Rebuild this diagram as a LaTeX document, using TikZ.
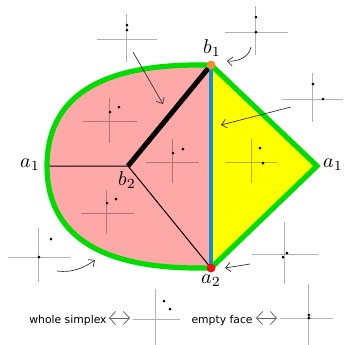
\documentclass[tikz,border=0pt]{standalone}
\usepackage{fontspec}
\usepackage{tikz}
\usetikzlibrary{arrows.meta}
\newfontfamily\notesans{DejaVu Sans}
\definecolor{facepink}{RGB}{255,168,168}
\definecolor{faceyellow}{RGB}{255,255,0}
\definecolor{rimgreen}{RGB}{0,220,0}
\definecolor{edgeblue}{RGB}{20,140,210}
\definecolor{dotorange}{RGB}{240,140,50}
\definecolor{dotred}{RGB}{235,20,20}

\begin{document}
\begin{tikzpicture}[
    x=0.5pt, y=-0.5pt,
    axis/.style={draw=black, opacity=0.3, line width=0.5pt},
    pt/.style={circle, fill=black, inner sep=0pt, minimum size=1.5pt},
    ptr/.style={draw=black!80, line width=0.35pt, -{Straight Barb[length=2.5pt,width=4.5pt]}},
    iff/.style={draw=black!60, line width=0.4pt, {Straight Barb[length=3pt,width=6.5pt]}-{Straight Barb[length=3pt,width=6.5pt]}},
    vdot/.style={circle, inner sep=0pt, minimum size=4.5pt},
    note/.style={font=\notesans\fontsize{5.4}{6}\selectfont, inner sep=0pt, anchor=base east}
]
\useasboundingbox (0,0) rectangle (344,345);
% vertices
\coordinate (b1) at (211,65);
\coordinate (a2) at (211,268);
\coordinate (b2) at (128,166);
\coordinate (a1r) at (317,166);
\coordinate (a1l) at (47,166);
% faces
\fill[facepink] (b1) -- (198,65) .. controls (97,65) and (47,99) .. (a1l)
    .. controls (47,233) and (97,268) .. (198,268) -- (a2) -- cycle;
\fill[faceyellow] (b1) -- (a1r) -- (a2) -- cycle;
% cells
\draw[line width=0.5pt] (a1l) -- (b2) -- (a2);
\draw[line width=2.5pt] (b2) -- (b1);
\draw[edgeblue, line width=2pt] (b1) -- (a2);
\draw[rimgreen, line width=2.6pt] (b1) -- (198,65) .. controls (97,65) and (47,99) .. (a1l)
    .. controls (47,233) and (97,268) .. (198,268) -- (a2) -- (a1r) -- cycle;
\node[vdot, fill=dotorange] (b1dot) at (b1) {};
\node[vdot, fill=dotred] (a2dot) at (a2) {};
% labels
\node (lb1) at (212,48) {$b_1$};
\node (la2) at (211,281) {$a_2$};
\node (lb2) at (127,180) {$b_2$};
\node (la1l) at (30,165) {$a_1$};
\node (la1r) at (333,165) {$a_1$};
% little diagrams
\foreach \cx/\cy/\xl/\xr/\yt/\yb in {127/39/97/157/14/62, 256/32/225/288/6/55,
    313/99/282/343/73/122, 110/121/83/137/98/143, 173/162/146/199/139/183,
    107/213/81/134/190/234, 252/162/225/277/139/183, 39/257/8/70/228/282,
    285/254/252/318/222/284, 156/319/133/180/289/345, 309/318/280/333/284/345} {
    \draw[axis] (\xl,\cy) -- (\xr,\cy) (\cx,\yt) -- (\cx,\yb);
}
\foreach \x/\y [count=\k] in {127/25, 127/30, 256/17, 256/32, 313/84, 323/99,
    110/112, 119/107, 173/153, 183/149, 107/203, 116/199, 260/148, 263/163,
    39/257, 51/239, 283/257, 287/253, 164/301, 170/309, 309/315, 309/318} {
    \node[pt] (d\k) at (\x,\y) {};
}
% pointers
\coordinate (pA) at (133,52);
\coordinate (qA) at (163,104);
\coordinate (pB) at (251,47);
\coordinate (qB) at (227,61);
\coordinate (pC) at (291,107);
\coordinate (qC) at (221,125);
\coordinate (pD) at (57,271);
\coordinate (qD) at (95,260);
\coordinate (pE) at (250,264);
\coordinate (qE) at (225,268);
\draw[ptr] (pA) -- (qA);
\draw[ptr] (pB) .. controls (249,57) and (238,62) .. (qB);
\draw[ptr] (pC) -- (qC);
\draw[ptr] (pD) .. controls (72,273) and (84,268) .. (qD);
\draw[ptr] (pE) -- (qE);
% legend
\node[note] (ws) at (107,323) {whole simplex};
\node[note] (ef) at (253,323) {empty face};
\coordinate (wsl) at (109,318);
\coordinate (wsr) at (130,318);
\coordinate (efl) at (256,318);
\coordinate (efr) at (277,318);
\draw[iff] (wsl) -- (wsr);
\draw[iff] (efl) -- (efr);
\end{tikzpicture}
\end{document}
